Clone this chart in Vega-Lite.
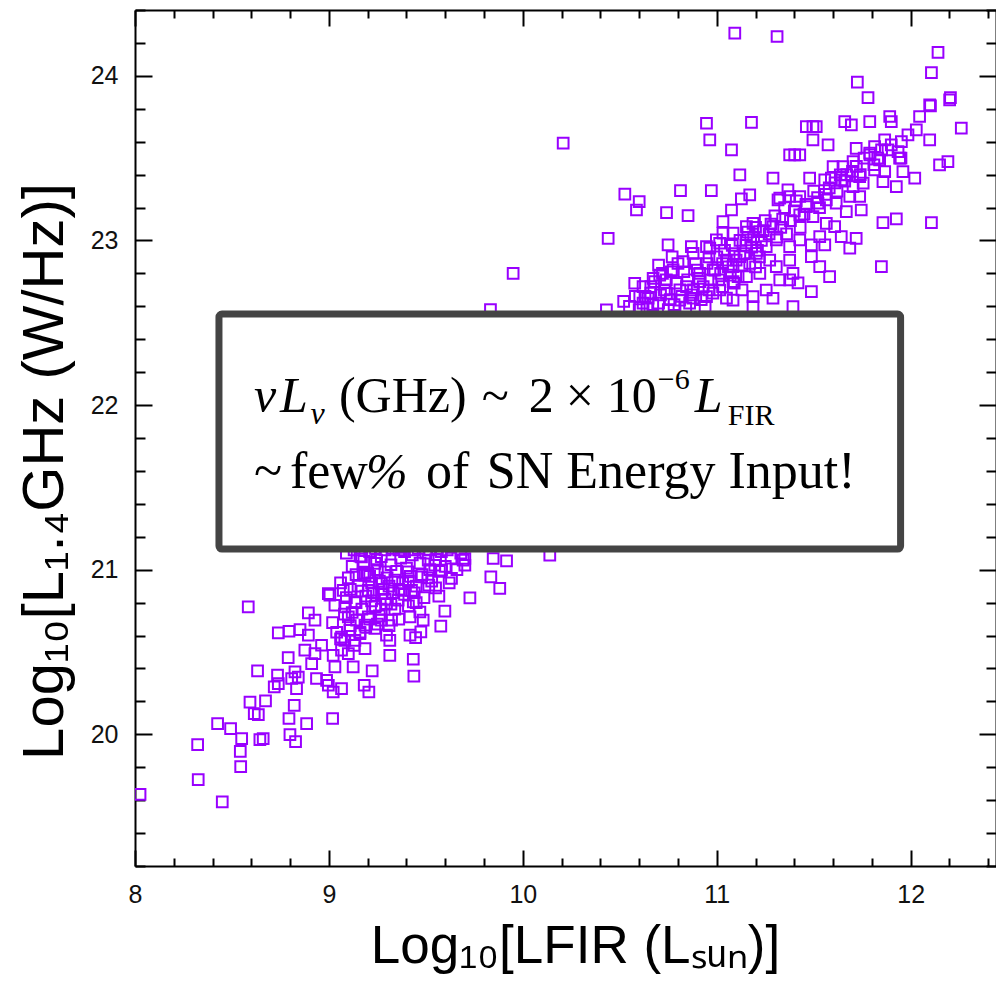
{
  "$schema": "https://vega.github.io/schema/vega-lite/v6.json",
  "width": 861,
  "height": 856,
  "autosize": {"type": "none"},
  "padding": {"left": 135, "top": 10, "right": 0, "bottom": 119},
  "background": "white",
  "config": {
    "view": {"stroke": null},
    "axis": {
      "domainColor": "black",
      "domainWidth": 2,
      "tickColor": "black",
      "tickWidth": 2,
      "grid": false,
      "labelFont": "Liberation Sans",
      "labelFontSize": 25,
      "labelColor": "#111111",
      "titleFont": "Liberation Sans",
      "titleFontWeight": "normal",
      "titleColor": "black"
    }
  },
  "datasets": {
    "galaxies": [
      {"lfir": 8.026, "lrad": 19.635}, {"lfir": 8.323, "lrad": 19.937}, {"lfir": 8.326, "lrad": 19.725}, {"lfir": 8.45, "lrad": 19.59},
      {"lfir": 8.426, "lrad": 20.065}, {"lfir": 8.493, "lrad": 20.035}, {"lfir": 8.55, "lrad": 19.974}, {"lfir": 8.543, "lrad": 19.897},
      {"lfir": 8.545, "lrad": 19.804}, {"lfir": 8.584, "lrad": 20.774}, {"lfir": 8.593, "lrad": 20.195}, {"lfir": 8.615, "lrad": 20.126},
      {"lfir": 8.636, "lrad": 20.12}, {"lfir": 8.644, "lrad": 19.968}, {"lfir": 8.661, "lrad": 19.974}, {"lfir": 8.673, "lrad": 20.203},
      {"lfir": 8.632, "lrad": 20.385}, {"lfir": 8.718, "lrad": 20.288}, {"lfir": 8.735, "lrad": 20.359}, {"lfir": 8.739, "lrad": 20.308},
      {"lfir": 8.79, "lrad": 20.466}, {"lfir": 8.739, "lrad": 20.616}, {"lfir": 8.794, "lrad": 20.626}, {"lfir": 8.825, "lrad": 20.379},
      {"lfir": 8.808, "lrad": 20.339}, {"lfir": 8.842, "lrad": 20.348}, {"lfir": 8.833, "lrad": 20.278}, {"lfir": 8.821, "lrad": 20.176},
      {"lfir": 8.794, "lrad": 20.096}, {"lfir": 8.799, "lrad": 19.998}, {"lfir": 8.828, "lrad": 19.956}, {"lfir": 8.885, "lrad": 20.065},
      {"lfir": 8.851, "lrad": 20.636}, {"lfir": 8.894, "lrad": 20.738}, {"lfir": 8.928, "lrad": 20.693}, {"lfir": 8.894, "lrad": 20.602},
      {"lfir": 8.876, "lrad": 20.511}, {"lfir": 8.928, "lrad": 20.49}, {"lfir": 8.911, "lrad": 20.43}, {"lfir": 8.936, "lrad": 20.339},
      {"lfir": 8.962, "lrad": 20.541}, {"lfir": 8.988, "lrad": 20.328}, {"lfir": 9.022, "lrad": 20.257}, {"lfir": 9.019, "lrad": 20.096},
      {"lfir": 9.065, "lrad": 20.278}, {"lfir": 8.997, "lrad": 20.298}, {"lfir": 9.019, "lrad": 20.679}, {"lfir": 9.005, "lrad": 20.845},
      {"lfir": 9.031, "lrad": 20.784}, {"lfir": 9.074, "lrad": 20.875}, {"lfir": 9.022, "lrad": 20.48}, {"lfir": 9.031, "lrad": 20.409},
      {"lfir": 9.065, "lrad": 20.511}, {"lfir": 9.125, "lrad": 20.409}, {"lfir": 9.186, "lrad": 20.521}, {"lfir": 9.223, "lrad": 20.385},
      {"lfir": 9.182, "lrad": 20.298}, {"lfir": 9.206, "lrad": 20.257}, {"lfir": 9.1, "lrad": 20.49}, {"lfir": 9.082, "lrad": 20.571},
      {"lfir": 9.065, "lrad": 20.591}, {"lfir": 9.108, "lrad": 20.632}, {"lfir": 9.1, "lrad": 20.713}, {"lfir": 9.082, "lrad": 20.774},
      {"lfir": 9.134, "lrad": 20.804}, {"lfir": 9.143, "lrad": 20.693}, {"lfir": 9.16, "lrad": 20.612}, {"lfir": 9.134, "lrad": 20.571},
      {"lfir": 9.186, "lrad": 20.663}, {"lfir": 9.203, "lrad": 20.713}, {"lfir": 9.237, "lrad": 20.774}, {"lfir": 9.237, "lrad": 20.643},
      {"lfir": 9.271, "lrad": 20.693}, {"lfir": 9.297, "lrad": 20.602}, {"lfir": 9.314, "lrad": 20.571}, {"lfir": 9.314, "lrad": 20.48},
      {"lfir": 9.323, "lrad": 20.693}, {"lfir": 9.297, "lrad": 20.794}, {"lfir": 9.271, "lrad": 20.855}, {"lfir": 9.203, "lrad": 20.875},
      {"lfir": 9.186, "lrad": 20.967}, {"lfir": 9.168, "lrad": 21.078}, {"lfir": 9.237, "lrad": 21.038}, {"lfir": 9.289, "lrad": 20.987},
      {"lfir": 9.271, "lrad": 20.916}, {"lfir": 9.34, "lrad": 20.936}, {"lfir": 9.357, "lrad": 20.815}, {"lfir": 9.374, "lrad": 20.875},
      {"lfir": 9.409, "lrad": 20.987}, {"lfir": 9.426, "lrad": 20.875}, {"lfir": 9.435, "lrad": 20.804}, {"lfir": 9.418, "lrad": 20.713},
      {"lfir": 9.469, "lrad": 20.743}, {"lfir": 9.486, "lrad": 20.693}, {"lfir": 9.418, "lrad": 20.602}, {"lfir": 9.447, "lrad": 20.588},
      {"lfir": 9.474, "lrad": 20.622}, {"lfir": 9.435, "lrad": 20.456}, {"lfir": 9.438, "lrad": 20.353}, {"lfir": 9.515, "lrad": 20.906},
      {"lfir": 9.567, "lrad": 20.839}, {"lfir": 9.598, "lrad": 20.748}, {"lfir": 9.577, "lrad": 20.657}, {"lfir": 9.727, "lrad": 20.829},
      {"lfir": 9.835, "lrad": 20.956}, {"lfir": 9.881, "lrad": 20.886}, {"lfir": 9.916, "lrad": 21.054}, {"lfir": 9.847, "lrad": 21.068},
      {"lfir": 9.701, "lrad": 21.027}, {"lfir": 9.701, "lrad": 21.068}, {"lfir": 9.632, "lrad": 20.947}, {"lfir": 9.581, "lrad": 20.997},
      {"lfir": 10.139, "lrad": 21.088}, {"lfir": 9.512, "lrad": 21.058}, {"lfir": 9.478, "lrad": 20.956}, {"lfir": 9.546, "lrad": 21.027},
      {"lfir": 9.16, "lrad": 21.082}, {"lfir": 9.246, "lrad": 21.058}, {"lfir": 9.692, "lrad": 21.058}, {"lfir": 9.177, "lrad": 20.977},
      {"lfir": 8.997, "lrad": 20.855},
      {"lfir": 9.1, "lrad": 20.95}, {"lfir": 9.12, "lrad": 21.02}, {"lfir": 9.15, "lrad": 20.9}, {"lfir": 9.18, "lrad": 21.05},
      {"lfir": 9.2, "lrad": 20.98}, {"lfir": 9.22, "lrad": 20.92}, {"lfir": 9.25, "lrad": 21.0}, {"lfir": 9.27, "lrad": 21.08},
      {"lfir": 9.28, "lrad": 20.88}, {"lfir": 9.3, "lrad": 20.95}, {"lfir": 9.32, "lrad": 21.03}, {"lfir": 9.33, "lrad": 20.86},
      {"lfir": 9.35, "lrad": 20.99}, {"lfir": 9.37, "lrad": 21.07}, {"lfir": 9.38, "lrad": 20.92}, {"lfir": 9.4, "lrad": 21.01},
      {"lfir": 9.42, "lrad": 20.96}, {"lfir": 9.43, "lrad": 21.09}, {"lfir": 9.45, "lrad": 20.9}, {"lfir": 9.47, "lrad": 21.04},
      {"lfir": 9.48, "lrad": 20.97}, {"lfir": 9.5, "lrad": 21.1}, {"lfir": 9.52, "lrad": 21.0}, {"lfir": 9.53, "lrad": 20.93},
      {"lfir": 9.55, "lrad": 21.06}, {"lfir": 9.14, "lrad": 20.8}, {"lfir": 9.19, "lrad": 20.84}, {"lfir": 9.24, "lrad": 20.78},
      {"lfir": 9.29, "lrad": 20.82}, {"lfir": 9.34, "lrad": 20.76}, {"lfir": 9.39, "lrad": 20.85}, {"lfir": 9.21, "lrad": 20.7},
      {"lfir": 9.26, "lrad": 20.72}, {"lfir": 9.31, "lrad": 20.66}, {"lfir": 9.16, "lrad": 20.62}, {"lfir": 9.08, "lrad": 20.73},
      {"lfir": 9.11, "lrad": 20.66}, {"lfir": 9.06, "lrad": 20.58}, {"lfir": 9.13, "lrad": 20.54}, {"lfir": 9.04, "lrad": 20.62},
      {"lfir": 9.6, "lrad": 21.02}, {"lfir": 9.58, "lrad": 21.11}, {"lfir": 9.44, "lrad": 21.12}, {"lfir": 9.36, "lrad": 21.12},
      {"lfir": 9.62, "lrad": 20.92}, {"lfir": 9.66, "lrad": 21.0},
      {"lfir": 9.09, "lrad": 21.1}, {"lfir": 9.13, "lrad": 21.12}, {"lfir": 9.17, "lrad": 21.13}, {"lfir": 9.21, "lrad": 21.11},
      {"lfir": 9.24, "lrad": 21.13}, {"lfir": 9.29, "lrad": 21.12}, {"lfir": 9.33, "lrad": 21.13}, {"lfir": 9.39, "lrad": 21.11},
      {"lfir": 9.46, "lrad": 21.13}, {"lfir": 9.52, "lrad": 21.12}, {"lfir": 9.56, "lrad": 21.13}, {"lfir": 9.61, "lrad": 21.12},
      {"lfir": 9.11, "lrad": 20.88}, {"lfir": 9.14, "lrad": 20.97}, {"lfir": 9.17, "lrad": 20.87}, {"lfir": 9.21, "lrad": 20.96},
      {"lfir": 9.23, "lrad": 20.86}, {"lfir": 9.26, "lrad": 20.93}, {"lfir": 9.31, "lrad": 20.9}, {"lfir": 9.36, "lrad": 20.88},
      {"lfir": 9.41, "lrad": 20.93}, {"lfir": 9.44, "lrad": 20.86}, {"lfir": 9.49, "lrad": 20.83}, {"lfir": 9.51, "lrad": 20.95},
      {"lfir": 9.12, "lrad": 20.74}, {"lfir": 9.17, "lrad": 20.76}, {"lfir": 9.22, "lrad": 20.81}, {"lfir": 9.27, "lrad": 20.76},
      {"lfir": 9.32, "lrad": 20.79}, {"lfir": 9.36, "lrad": 20.7}, {"lfir": 9.41, "lrad": 20.78}, {"lfir": 9.45, "lrad": 20.8},
      {"lfir": 9.25, "lrad": 20.67}, {"lfir": 9.19, "lrad": 20.65}, {"lfir": 9.09, "lrad": 20.83}, {"lfir": 9.06, "lrad": 20.92},
      {"lfir": 9.57, "lrad": 20.99}, {"lfir": 9.55, "lrad": 20.89}, {"lfir": 9.63, "lrad": 21.07}, {"lfir": 9.68, "lrad": 21.1},
      {"lfir": 10.208, "lrad": 23.591}, {"lfir": 10.44, "lrad": 23.013}, {"lfir": 10.526, "lrad": 23.281}, {"lfir": 10.6, "lrad": 23.236},
      {"lfir": 10.586, "lrad": 23.185}, {"lfir": 10.741, "lrad": 23.169}, {"lfir": 10.852, "lrad": 23.151}, {"lfir": 10.813, "lrad": 23.303},
      {"lfir": 10.972, "lrad": 23.303}, {"lfir": 10.947, "lrad": 23.712}, {"lfir": 10.964, "lrad": 23.611}, {"lfir": 11.076, "lrad": 23.55},
      {"lfir": 11.179, "lrad": 23.718}, {"lfir": 11.119, "lrad": 23.398}, {"lfir": 11.17, "lrad": 23.277}, {"lfir": 11.127, "lrad": 23.252},
      {"lfir": 11.076, "lrad": 23.185}, {"lfir": 11.032, "lrad": 23.114}, {"lfir": 10.749, "lrad": 22.973}, {"lfir": 10.869, "lrad": 22.962},
      {"lfir": 11.29, "lrad": 23.378}, {"lfir": 11.325, "lrad": 23.257}, {"lfir": 11.376, "lrad": 23.52}, {"lfir": 11.402, "lrad": 23.52},
      {"lfir": 11.428, "lrad": 23.52}, {"lfir": 11.462, "lrad": 23.692}, {"lfir": 11.496, "lrad": 23.692}, {"lfir": 11.513, "lrad": 23.692},
      {"lfir": 11.496, "lrad": 23.611}, {"lfir": 11.574, "lrad": 23.581}, {"lfir": 11.479, "lrad": 23.378}, {"lfir": 11.557, "lrad": 23.368},
      {"lfir": 11.6, "lrad": 23.449}, {"lfir": 11.66, "lrad": 23.722}, {"lfir": 11.694, "lrad": 23.702}, {"lfir": 11.789, "lrad": 23.722},
      {"lfir": 11.892, "lrad": 23.753}, {"lfir": 11.9, "lrad": 23.722}, {"lfir": 12.046, "lrad": 23.753}, {"lfir": 12.098, "lrad": 23.824},
      {"lfir": 12.201, "lrad": 23.854}, {"lfir": 12.261, "lrad": 23.682}, {"lfir": 12.098, "lrad": 23.611}, {"lfir": 12.029, "lrad": 23.672},
      {"lfir": 11.986, "lrad": 23.641}, {"lfir": 11.952, "lrad": 23.601}, {"lfir": 11.866, "lrad": 23.611}, {"lfir": 11.814, "lrad": 23.57},
      {"lfir": 11.883, "lrad": 23.55}, {"lfir": 11.719, "lrad": 23.56}, {"lfir": 11.789, "lrad": 23.53}, {"lfir": 11.935, "lrad": 23.54},
      {"lfir": 11.943, "lrad": 23.5}, {"lfir": 11.703, "lrad": 23.479}, {"lfir": 11.84, "lrad": 23.489}, {"lfir": 11.814, "lrad": 23.429},
      {"lfir": 11.866, "lrad": 23.418}, {"lfir": 11.96, "lrad": 23.418}, {"lfir": 12.021, "lrad": 23.378}, {"lfir": 11.926, "lrad": 23.327},
      {"lfir": 11.857, "lrad": 23.358}, {"lfir": 12.149, "lrad": 23.459}, {"lfir": 12.192, "lrad": 23.479}, {"lfir": 12.107, "lrad": 23.108},
      {"lfir": 11.926, "lrad": 23.131}, {"lfir": 11.857, "lrad": 23.108}, {"lfir": 11.849, "lrad": 22.841}, {"lfir": 11.737, "lrad": 23.388},
      {"lfir": 11.651, "lrad": 23.449}, {"lfir": 11.591, "lrad": 23.378}, {"lfir": 11.642, "lrad": 23.368}, {"lfir": 11.703, "lrad": 23.327},
      {"lfir": 11.755, "lrad": 23.348}, {"lfir": 11.737, "lrad": 23.267}, {"lfir": 11.745, "lrad": 23.185}, {"lfir": 11.668, "lrad": 23.175},
      {"lfir": 11.616, "lrad": 23.226}, {"lfir": 11.565, "lrad": 23.246}, {"lfir": 11.522, "lrad": 23.226}, {"lfir": 11.462, "lrad": 23.206},
      {"lfir": 11.428, "lrad": 23.267}, {"lfir": 11.376, "lrad": 23.267}, {"lfir": 11.316, "lrad": 23.246}, {"lfir": 11.367, "lrad": 23.307},
      {"lfir": 11.428, "lrad": 23.155}, {"lfir": 11.496, "lrad": 23.145}, {"lfir": 11.565, "lrad": 23.104}, {"lfir": 11.608, "lrad": 23.084},
      {"lfir": 11.642, "lrad": 23.023}, {"lfir": 11.719, "lrad": 23.013}, {"lfir": 11.686, "lrad": 22.953}, {"lfir": 11.557, "lrad": 22.973},
      {"lfir": 11.488, "lrad": 22.973}, {"lfir": 11.488, "lrad": 22.902}, {"lfir": 11.531, "lrad": 22.841}, {"lfir": 11.582, "lrad": 22.78},
      {"lfir": 11.488, "lrad": 22.689}, {"lfir": 11.419, "lrad": 22.743}, {"lfir": 11.376, "lrad": 22.76}, {"lfir": 11.393, "lrad": 22.598},
      {"lfir": 11.29, "lrad": 22.649}, {"lfir": 11.376, "lrad": 22.881}, {"lfir": 11.376, "lrad": 22.962}, {"lfir": 11.428, "lrad": 23.003},
      {"lfir": 11.307, "lrad": 23.003}, {"lfir": 11.255, "lrad": 22.962}, {"lfir": 11.222, "lrad": 23.053}, {"lfir": 11.29, "lrad": 23.084},
      {"lfir": 11.187, "lrad": 23.104}, {"lfir": 11.153, "lrad": 23.084}, {"lfir": 11.084, "lrad": 23.044}, {"lfir": 11.032, "lrad": 23.044},
      {"lfir": 10.998, "lrad": 23.003}, {"lfir": 10.947, "lrad": 22.962}, {"lfir": 10.878, "lrad": 22.922}, {"lfir": 10.826, "lrad": 22.871},
      {"lfir": 10.775, "lrad": 22.821}, {"lfir": 10.706, "lrad": 22.79}, {"lfir": 10.672, "lrad": 22.77}, {"lfir": 10.577, "lrad": 22.74},
      {"lfir": 10.62, "lrad": 22.719}, {"lfir": 10.603, "lrad": 22.659}, {"lfir": 10.646, "lrad": 22.649}, {"lfir": 10.431, "lrad": 22.578},
      {"lfir": 10.741, "lrad": 22.679}, {"lfir": 10.844, "lrad": 22.719}, {"lfir": 10.912, "lrad": 22.75}, {"lfir": 10.981, "lrad": 22.821},
      {"lfir": 11.05, "lrad": 22.881}, {"lfir": 11.119, "lrad": 22.902}, {"lfir": 11.204, "lrad": 22.922}, {"lfir": 11.273, "lrad": 22.881},
      {"lfir": 11.222, "lrad": 22.8}, {"lfir": 11.153, "lrad": 22.78}, {"lfir": 11.084, "lrad": 22.75}, {"lfir": 11.015, "lrad": 22.699},
      {"lfir": 10.947, "lrad": 22.659}, {"lfir": 10.878, "lrad": 22.649}, {"lfir": 10.809, "lrad": 22.638}, {"lfir": 11.084, "lrad": 22.638},
      {"lfir": 11.187, "lrad": 22.659}, {"lfir": 11.255, "lrad": 22.699}, {"lfir": 11.325, "lrad": 22.76}, {"lfir": 11.187, "lrad": 22.598},
      {"lfir": 11.015, "lrad": 22.983}, {"lfir": 11.153, "lrad": 23.003}, {"lfir": 10.912, "lrad": 22.8}, {"lfir": 11.084, "lrad": 22.841},
      {"lfir": 11.307, "lrad": 22.841}, {"lfir": 11.393, "lrad": 22.8}, {"lfir": 11.637, "lrad": 23.398}, {"lfir": 11.686, "lrad": 23.267},
      {"lfir": 11.531, "lrad": 23.023},
      {"lfir": 11.093, "lrad": 24.26}, {"lfir": 11.311, "lrad": 24.239}, {"lfir": 12.141, "lrad": 24.142}, {"lfir": 12.107, "lrad": 24.02},
      {"lfir": 11.725, "lrad": 23.962}, {"lfir": 11.78, "lrad": 23.868}, {"lfir": 12.205, "lrad": 23.868}, {"lfir": 12.102, "lrad": 23.818},
      {"lfir": 9.95, "lrad": 22.8}, {"lfir": 9.833, "lrad": 22.58}, {"lfir": 10.766, "lrad": 22.81}, {"lfir": 10.964, "lrad": 22.953},
      {"lfir": 10.62, "lrad": 22.62}, {"lfir": 10.66, "lrad": 22.68}, {"lfir": 10.7, "lrad": 22.62}, {"lfir": 10.73, "lrad": 22.7},
      {"lfir": 10.76, "lrad": 22.64}, {"lfir": 10.79, "lrad": 22.74}, {"lfir": 10.82, "lrad": 22.66}, {"lfir": 10.85, "lrad": 22.76},
      {"lfir": 10.88, "lrad": 22.7}, {"lfir": 10.9, "lrad": 22.82}, {"lfir": 10.93, "lrad": 22.72}, {"lfir": 10.95, "lrad": 22.86},
      {"lfir": 10.97, "lrad": 22.76}, {"lfir": 11.0, "lrad": 22.9}, {"lfir": 11.02, "lrad": 22.8}, {"lfir": 11.04, "lrad": 22.94},
      {"lfir": 11.06, "lrad": 22.84}, {"lfir": 11.08, "lrad": 22.97}, {"lfir": 11.1, "lrad": 22.88}, {"lfir": 11.12, "lrad": 23.0},
      {"lfir": 11.14, "lrad": 22.92}, {"lfir": 11.16, "lrad": 23.05}, {"lfir": 11.18, "lrad": 22.96}, {"lfir": 11.2, "lrad": 23.08},
      {"lfir": 11.23, "lrad": 23.0}, {"lfir": 11.25, "lrad": 23.12}, {"lfir": 11.27, "lrad": 23.04}, {"lfir": 11.3, "lrad": 23.15},
      {"lfir": 11.33, "lrad": 23.08}, {"lfir": 11.35, "lrad": 23.2}, {"lfir": 10.68, "lrad": 22.75}, {"lfir": 10.72, "lrad": 22.8},
      {"lfir": 10.8, "lrad": 22.86}, {"lfir": 10.86, "lrad": 22.62}, {"lfir": 10.92, "lrad": 22.64}, {"lfir": 10.98, "lrad": 22.68},
      {"lfir": 11.03, "lrad": 22.72}, {"lfir": 10.64, "lrad": 22.59}, {"lfir": 10.75, "lrad": 22.58}, {"lfir": 10.84, "lrad": 22.59},
      {"lfir": 10.94, "lrad": 22.6}, {"lfir": 11.05, "lrad": 22.65}, {"lfir": 11.11, "lrad": 22.78}, {"lfir": 11.17, "lrad": 22.86},
      {"lfir": 11.22, "lrad": 22.9}, {"lfir": 10.58, "lrad": 22.66}, {"lfir": 10.55, "lrad": 22.6}, {"lfir": 10.52, "lrad": 22.63},
      {"lfir": 11.38, "lrad": 23.12}, {"lfir": 11.41, "lrad": 23.24}, {"lfir": 11.45, "lrad": 23.16}, {"lfir": 11.5, "lrad": 23.3},
      {"lfir": 11.53, "lrad": 23.2}, {"lfir": 11.58, "lrad": 23.32}, {"lfir": 11.62, "lrad": 23.3}, {"lfir": 11.67, "lrad": 23.4},
      {"lfir": 11.72, "lrad": 23.45}, {"lfir": 11.76, "lrad": 23.5}, {"lfir": 11.81, "lrad": 23.46}, {"lfir": 11.85, "lrad": 23.55},
      {"lfir": 11.9, "lrad": 23.58}, {"lfir": 11.95, "lrad": 23.5},
      {"lfir": 10.6, "lrad": 22.58}, {"lfir": 10.67, "lrad": 22.61}, {"lfir": 10.71, "lrad": 22.67}, {"lfir": 10.78, "lrad": 22.61},
      {"lfir": 10.81, "lrad": 22.7}, {"lfir": 10.87, "lrad": 22.67}, {"lfir": 10.91, "lrad": 22.77}, {"lfir": 10.96, "lrad": 22.7},
      {"lfir": 10.99, "lrad": 22.82}, {"lfir": 11.01, "lrad": 22.76}, {"lfir": 11.07, "lrad": 22.79}, {"lfir": 11.09, "lrad": 22.92},
      {"lfir": 11.13, "lrad": 22.85}, {"lfir": 11.15, "lrad": 22.97}, {"lfir": 11.19, "lrad": 23.02}, {"lfir": 11.21, "lrad": 22.94},
      {"lfir": 11.24, "lrad": 23.06}, {"lfir": 11.28, "lrad": 23.1}, {"lfir": 11.31, "lrad": 23.02}, {"lfir": 11.34, "lrad": 23.13},
      {"lfir": 11.36, "lrad": 23.04}, {"lfir": 11.4, "lrad": 23.18}, {"lfir": 11.43, "lrad": 23.08}, {"lfir": 11.46, "lrad": 23.22},
      {"lfir": 10.74, "lrad": 22.76}, {"lfir": 10.83, "lrad": 22.81}, {"lfir": 10.89, "lrad": 22.86}, {"lfir": 10.96, "lrad": 22.9},
      {"lfir": 11.03, "lrad": 22.86}, {"lfir": 11.09, "lrad": 22.74}, {"lfir": 11.13, "lrad": 22.7}, {"lfir": 11.2, "lrad": 22.84},
      {"lfir": 10.66, "lrad": 22.72}, {"lfir": 10.7, "lrad": 22.85}, {"lfir": 10.77, "lrad": 22.9}, {"lfir": 10.63, "lrad": 22.66},
      {"lfir": 11.52, "lrad": 23.26}, {"lfir": 11.56, "lrad": 23.28}, {"lfir": 11.61, "lrad": 23.35}, {"lfir": 11.66, "lrad": 23.36},
      {"lfir": 11.7, "lrad": 23.42}, {"lfir": 11.74, "lrad": 23.4}, {"lfir": 11.79, "lrad": 23.52}, {"lfir": 11.83, "lrad": 23.5}
    ],
    "box": [{"x1": 8.433, "x2": 11.948, "y1": 21.125, "y2": 22.553}],
    "mathItalic": [
      {"x": 8.6134, "y": 21.9574, "t": "ν"},
      {"x": 8.7474, "y": 21.9574, "t": "L"},
      {"x": 10.8866, "y": 21.9574, "t": "L"},
      {"x": 9.1907, "y": 21.4954, "t": "%"}
    ],
    "mathRoman": [
      {"x": 9.0515, "y": 21.9574, "t": "(GHz)"},
      {"x": 9.7887, "y": 21.9574, "t": "~"},
      {"x": 10.031, "y": 21.9574, "t": "2"},
      {"x": 10.2216, "y": 21.9574, "t": "×"},
      {"x": 10.433, "y": 21.9574, "t": "10"}
    ],
    "mathRomanLine2": [
      {"x": 8.6134, "y": 21.4954, "t": "~"},
      {"x": 8.799, "y": 21.4954, "t": "few"},
      {"x": 9.5, "y": 21.4954, "t": "of"},
      {"x": 9.8144, "y": 21.4954, "t": "SN Energy Input!"}
    ],
    "mathSmallItalic": [
      {"x": 8.905, "y": 21.8845, "t": "ν"}
    ],
    "mathSmall": [
      {"x": 10.6959, "y": 22.0973, "t": "−6"},
      {"x": 11.0567, "y": 21.8784, "t": "FIR"}
    ]
  },
  "layer": [
    {
      "data": {"name": "galaxies"},
      "mark": {"type": "point", "shape": "square", "filled": false, "stroke": "#9900ff", "strokeWidth": 2, "size": 115, "opacity": 1, "clip": true},
      "encoding": {
        "x": {
          "field": "lfir", "type": "quantitative",
          "scale": {"domain": [8, 12.44], "nice": false, "zero": false},
          "axis": {
            "orient": "bottom",
            "values": [8, 8.2, 8.4, 8.6, 8.8, 9, 9.2, 9.4, 9.6, 9.8, 10, 10.2, 10.4, 10.6, 10.8, 11, 11.2, 11.4, 11.6, 11.8, 12, 12.2, 12.4],
            "tickSize": {"condition": {"test": "abs(datum.value - round(datum.value)) < 0.01", "value": -16}, "value": -8},
            "labelExpr": "abs(datum.value - round(datum.value)) < 0.01 ? format(datum.value, 'd') : ''",
            "labelPadding": 32,
            "labelFlush": false,
            "labelOverlap": false,
            "title": "Log₁₀[LFIR (Lₛᵤₙ)]",
            "titleFontSize": 53,
            "titleBaseline": "alphabetic",
            "titleX": 440,
            "titleY": 96
          }
        },
        "y": {
          "field": "lrad", "type": "quantitative",
          "scale": {"domain": [19.2, 24.4], "nice": false, "zero": false},
          "axis": {
            "orient": "left",
            "values": [19.2, 19.4, 19.6, 19.8, 20, 20.2, 20.4, 20.6, 20.8, 21, 21.2, 21.4, 21.6, 21.8, 22, 22.2, 22.4, 22.6, 22.8, 23, 23.2, 23.4, 23.6, 23.8, 24, 24.2, 24.4],
            "tickSize": {"condition": {"test": "abs(datum.value - round(datum.value)) < 0.01", "value": -17}, "value": -10},
            "labelExpr": "abs(datum.value - round(datum.value)) < 0.01 ? format(datum.value, 'd') : ''",
            "labelPadding": 34,
            "labelFlush": false,
            "labelOverlap": false,
            "title": "Log₁₀[L₁.₄GHz (W/Hz)]",
            "titleFontSize": 58,
            "titleAngle": 270,
            "titleBaseline": "alphabetic",
            "titleAlign": "center",
            "titleX": -73,
            "titleY": 461
          }
        }
      }
    },
    {
      "data": {"name": "box"},
      "mark": {"type": "rect", "fill": "white", "stroke": "#444444", "strokeWidth": 7, "cornerRadius": 3},
      "encoding": {
        "x": {
          "field": "x1", "type": "quantitative",
          "scale": {"domain": [8, 12.44], "nice": false, "zero": false},
          "axis": {
            "orient": "top",
            "values": [8, 8.2, 8.4, 8.6, 8.8, 9, 9.2, 9.4, 9.6, 9.8, 10, 10.2, 10.4, 10.6, 10.8, 11, 11.2, 11.4, 11.6, 11.8, 12, 12.2, 12.4],
            "tickSize": {"condition": {"test": "abs(datum.value - round(datum.value)) < 0.01", "value": -16}, "value": -8},
            "labels": false,
            "title": null
          }
        },
        "x2": {"field": "x2"},
        "y": {
          "field": "y1", "type": "quantitative",
          "scale": {"domain": [19.2, 24.4], "nice": false, "zero": false},
          "axis": {
            "orient": "right",
            "values": [19.2, 19.4, 19.6, 19.8, 20, 20.2, 20.4, 20.6, 20.8, 21, 21.2, 21.4, 21.6, 21.8, 22, 22.2, 22.4, 22.6, 22.8, 23, 23.2, 23.4, 23.6, 23.8, 24, 24.2, 24.4],
            "tickSize": {"condition": {"test": "abs(datum.value - round(datum.value)) < 0.01", "value": -17}, "value": -10},
            "labels": false,
            "title": null
          }
        },
        "y2": {"field": "y2"}
      }
    },
    {
      "data": {"name": "mathItalic"},
      "mark": {"type": "text", "font": "Liberation Serif", "fontSize": 50, "fontStyle": "italic", "align": "left", "baseline": "alphabetic", "color": "black"},
      "encoding": {
        "x": {"field": "x", "type": "quantitative", "scale": {"domain": [8, 12.44], "nice": false, "zero": false}, "axis": null},
        "y": {"field": "y", "type": "quantitative", "scale": {"domain": [19.2, 24.4], "nice": false, "zero": false}, "axis": null},
        "text": {"field": "t"}
      }
    },
    {
      "data": {"name": "mathRoman"},
      "mark": {"type": "text", "font": "Liberation Serif", "fontSize": 50, "align": "left", "baseline": "alphabetic", "color": "black"},
      "encoding": {
        "x": {"field": "x", "type": "quantitative", "scale": {"domain": [8, 12.44], "nice": false, "zero": false}, "axis": null},
        "y": {"field": "y", "type": "quantitative", "scale": {"domain": [19.2, 24.4], "nice": false, "zero": false}, "axis": null},
        "text": {"field": "t"}
      }
    },
    {
      "data": {"name": "mathRomanLine2"},
      "mark": {"type": "text", "font": "Liberation Serif", "fontSize": 52, "align": "left", "baseline": "alphabetic", "color": "black"},
      "encoding": {
        "x": {"field": "x", "type": "quantitative", "scale": {"domain": [8, 12.44], "nice": false, "zero": false}, "axis": null},
        "y": {"field": "y", "type": "quantitative", "scale": {"domain": [19.2, 24.4], "nice": false, "zero": false}, "axis": null},
        "text": {"field": "t"}
      }
    },
    {
      "data": {"name": "mathSmallItalic"},
      "mark": {"type": "text", "font": "Liberation Serif", "fontSize": 32, "fontStyle": "italic", "align": "left", "baseline": "alphabetic", "color": "black"},
      "encoding": {
        "x": {"field": "x", "type": "quantitative", "scale": {"domain": [8, 12.44], "nice": false, "zero": false}, "axis": null},
        "y": {"field": "y", "type": "quantitative", "scale": {"domain": [19.2, 24.4], "nice": false, "zero": false}, "axis": null},
        "text": {"field": "t"}
      }
    },
    {
      "data": {"name": "mathSmall"},
      "mark": {"type": "text", "font": "Liberation Serif", "fontSize": 30, "align": "left", "baseline": "alphabetic", "color": "black"},
      "encoding": {
        "x": {"field": "x", "type": "quantitative", "scale": {"domain": [8, 12.44], "nice": false, "zero": false}, "axis": null},
        "y": {"field": "y", "type": "quantitative", "scale": {"domain": [19.2, 24.4], "nice": false, "zero": false}, "axis": null},
        "text": {"field": "t"}
      }
    }
  ],
  "resolve": {"axis": {"x": "independent", "y": "independent"}}
}
